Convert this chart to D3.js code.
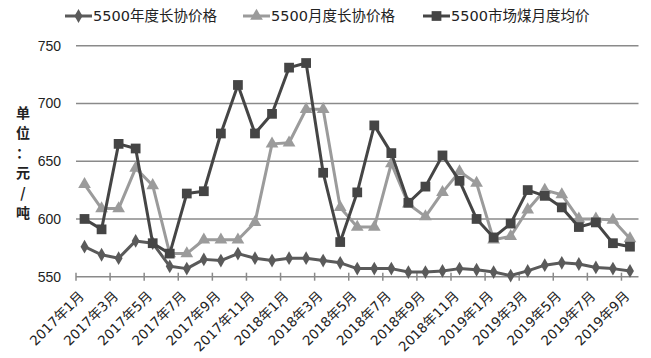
<!DOCTYPE html>
<html>
<head>
<meta charset="utf-8">
<script src="https://cdn.jsdelivr.net/npm/d3@7"></script>
<style>
  body { margin: 0; background: #fff; }
  svg { display: block; }
  text { font-family: "DejaVu Sans", "Noto Sans CJK SC", sans-serif; fill: #222; }
</style>
</head>
<body>
<svg width="651" height="358"></svg>
<script>
// months on the x axis
const months = [
    "2017年1月", "2017年2月", "2017年3月", "2017年4月", "2017年5月", "2017年6月",
    "2017年7月", "2017年8月", "2017年9月", "2017年10月", "2017年11月", "2017年12月",
    "2018年1月", "2018年2月", "2018年3月", "2018年4月", "2018年5月", "2018年6月",
    "2018年7月", "2018年8月", "2018年9月", "2018年10月", "2018年11月", "2018年12月",
    "2019年1月", "2019年2月", "2019年3月", "2019年4月", "2019年5月", "2019年6月",
    "2019年7月", "2019年8月", "2019年9月"
];

// 5500年度长协价格
const annualPrice = [576, 569, 566, 581, 579, 559, 557, 565, 564, 570, 566, 564,
    566, 566, 564, 562, 557, 557, 557, 554, 554, 555, 557, 556,
    554, 551, 555, 560, 562, 561, 558, 557, 555];

// 5500月度长协价格
const monthlyPrice = [630, 609, 609, 644, 629, 570, 570, 582, 582, 582, 597, 665,
    666, 695, 695, 610, 593, 593, 648, 613, 602, 623, 641, 631,
    582, 585, 608, 625, 621, 600, 600, 599, 583];

// 5500市场煤月度均价
const marketPrice = [600, 591, 665, 661, 579, 570, 622, 624, 674, 716, 674, 691,
    731, 735, 640, 580, 623, 681, 657, 614, 628, 655, 633, 600,
    584, 596, 625, 620, 610, 593, 597, 579, 576];

const yTicks = [550, 600, 650, 700, 750];
const yTitle = ["单", "位", "：", "元", "/", "吨"];

const svg = d3.select("svg");

const x = d3.scaleBand()
    .domain(months)
    .range([76, 638.5]);

const y = d3.scaleLinear()
    .domain([550, 750])
    .range([276.7, 45.7]);

const cx = d => x(d) + x.bandwidth() / 2;

// gridlines
svg.append("g")
    .selectAll("line")
    .data(yTicks.slice(1))
    .enter()
    .append("line")
    .attr("x1", 76)
    .attr("x2", 638.5)
    .attr("y1", d => y(d))
    .attr("y2", d => y(d))
    .attr("stroke", "#8a8a8a")
    .attr("stroke-width", 1.5);

// y labels
svg.append("g")
    .selectAll("text")
    .data(yTicks)
    .enter()
    .append("text")
    .attr("x", 61)
    .attr("y", d => y(d))
    .attr("dy", "0.36em")
    .attr("text-anchor", "end")
    .style("font-size", "14px")
    .style("font-family", "'Liberation Sans', sans-serif")
    .text(d => d);

// y title, one character per line
svg.append("g")
    .selectAll("text")
    .data(yTitle)
    .enter()
    .append("text")
    .attr("x", 23)
    .attr("y", (d, i) => 113 + i * 20)
    .attr("dy", "0.36em")
    .attr("text-anchor", "middle")
    .style("font-size", "14px")
    .style("font-weight", "bold")
    .style("font-family", "'Noto Sans CJK SC', sans-serif")
    .text(d => d);

// x axis line and ticks between categories
const axis = svg.append("g");
axis.append("line")
    .attr("x1", 76)
    .attr("x2", 638.5)
    .attr("y1", y(550))
    .attr("y2", y(550))
    .attr("stroke", "#8a8a8a")
    .attr("stroke-width", 1.5);

const everyOther = months.filter((m, i) => i % 2 == 0);

axis.selectAll(".tick")
    .data(everyOther)
    .enter()
    .append("line")
    .attr("class", "tick")
    .attr("x1", d => x(d))
    .attr("x2", d => x(d))
    .attr("y1", y(550) - 4)
    .attr("y2", y(550) + 4)
    .attr("stroke", "#8a8a8a")
    .attr("stroke-width", 1.5);

axis.selectAll(".xlabel")
    .data(everyOther)
    .enter()
    .append("text")
    .attr("class", "xlabel")
    .attr("transform", d => `translate(${cx(d) - 3},${y(550) + 17}) rotate(-45)`)
    .attr("dy", "0.35em")
    .attr("text-anchor", "end")
    .style("font-size", "13.5px")
    .text(d => d);

// series: drawn bottom to top
const series = [
    { values: annualPrice, color: "#5a5a5a", shape: "diamond", name: "5500年度长协价格" },
    { values: monthlyPrice, color: "#9b9b9b", shape: "triangle", name: "5500月度长协价格" },
    { values: marketPrice, color: "#454545", shape: "square", name: "5500市场煤月度均价" }
];

const symbolFor = {
    diamond: d3.symbol().type(d3.symbolDiamond).size(55),
    triangle: d3.symbol().type(d3.symbolTriangle).size(70),
    square: d3.symbol().type(d3.symbolSquare).size(95)
};

const line = d3.line()
    .x((d, i) => cx(months[i]))
    .y(d => y(d));

for (const s of series) {
    const g = svg.append("g");
    g.append("path")
        .attr("d", line(s.values))
        .attr("fill", "none")
        .attr("stroke", s.color)
        .attr("stroke-width", 3)
        .attr("stroke-linejoin", "round");

    g.selectAll("path.mark")
        .data(s.values)
        .enter()
        .append("path")
        .attr("class", "mark")
        .attr("transform", (d, i) => `translate(${cx(months[i])},${y(d)})`)
        .attr("d", symbolFor[s.shape]())
        .attr("fill", s.color);
}

// legend
const legendX = [65, 243, 423];
const legend = svg.append("g");
series.forEach((s, i) => {
    const lx = legendX[i];
    legend.append("line")
        .attr("x1", lx)
        .attr("x2", lx + 27)
        .attr("y1", 16)
        .attr("y2", 16)
        .attr("stroke", s.color)
        .attr("stroke-width", 3);
    legend.append("path")
        .attr("transform", `translate(${lx + 13.5},16)`)
        .attr("d", symbolFor[s.shape]())
        .attr("fill", s.color);
    legend.append("text")
        .attr("x", lx + 28)
        .attr("y", 16)
        .attr("dy", "0.36em")
        .style("font-size", "14.5px")
        .text(s.name);
});
</script>
</body>
</html>
